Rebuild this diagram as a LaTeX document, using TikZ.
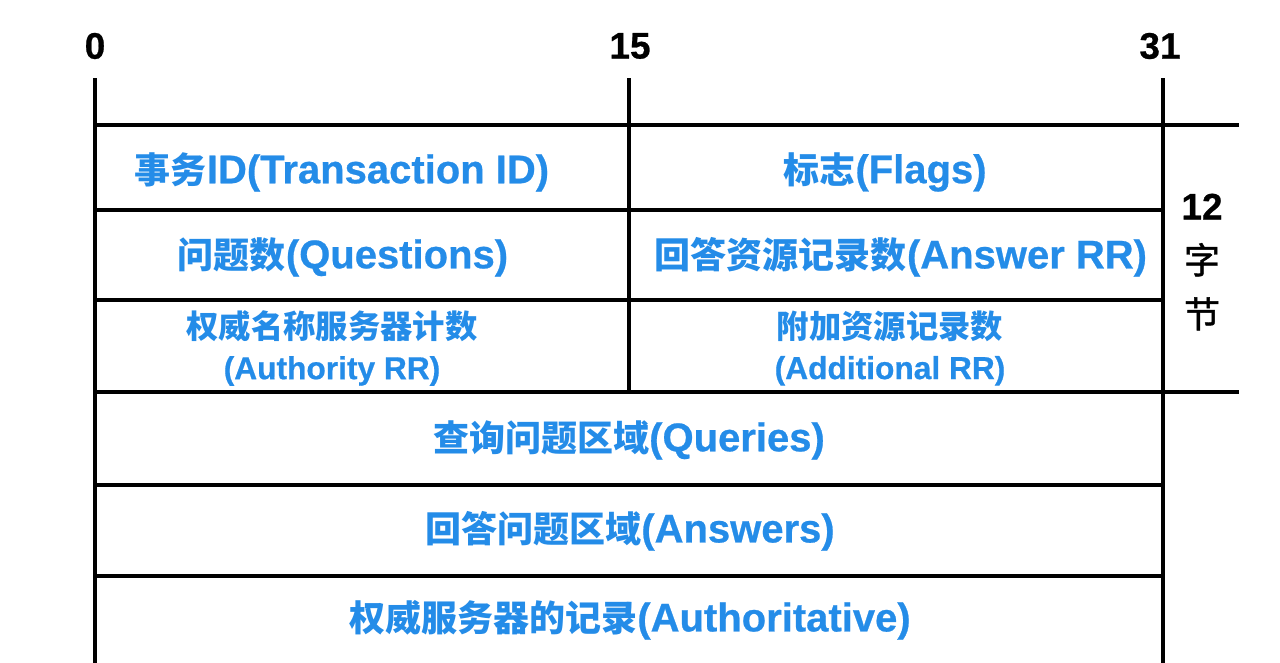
\documentclass[tikz,border=0pt]{standalone}
\usepackage{fontspec}
\setmainfont{Liberation Sans}[BoldFeatures={FakeBold=0.6}]
\newfontfamily\cjk{Noto Sans CJK SC}
\newfontfamily\cjkmed{Noto Sans CJK SC}[FakeBold=1.2]
\newcommand\zhbig[1]{{\cjk\fontsize{36}{44}\selectfont #1}}
\newcommand\zhsmall[1]{{\cjk\fontsize{32.3}{40}\selectfont #1}}
\newcommand\zhside[1]{{\cjkmed\mdseries\fontsize{36}{54}\selectfont #1}}
\definecolor{fieldblue}{RGB}{36,140,232}
\begin{document}
\begin{tikzpicture}[x=1pt,y=-1pt,
  grid/.style={line width=4pt,black,line cap=rect},
  field/.style={text=fieldblue,font=\fontsize{40}{46}\selectfont\bfseries,inner sep=0pt,anchor=center},
  smallfield/.style={text=fieldblue,font=\fontsize{31.7}{41}\selectfont\bfseries,inner sep=0pt,align=center,anchor=center},
  bitlabel/.style={text=black,font=\fontsize{37}{44}\selectfont\bfseries,inner sep=0pt},
  sidelabel/.style={text=black,font=\fontsize{37}{54}\selectfont\bfseries,inner sep=0pt,align=center}]
\useasboundingbox (0,0) rectangle (1280,662);
\fill[white] (0,0) rectangle (1280,662);
% grid lines
\draw[grid] (95,80) -- (95,664);
\draw[grid] (629,80) -- (629,392);
\draw[grid] (1163,80) -- (1163,664);
\draw[grid] (95,125) -- (1237,125);
\draw[grid] (95,210) -- (1163,210);
\draw[grid] (95,300) -- (1163,300);
\draw[grid] (95,392) -- (1237,392);
\draw[grid] (95,485) -- (1163,485);
\draw[grid] (95,576) -- (1163,576);
% bit labels
\node[bitlabel] (b0) at (95,46) {0};
\node[bitlabel] (b15) at (630,46) {15};
\node[bitlabel] (b31) at (1160,46) {31};
% side label
\node[sidelabel] (side) at (1202,262) {12\\\zhside{字}\\\zhside{节}};
% fields
\node[field] (tid) at (342,172) {\zhbig{事务}ID(Transaction ID)};
\node[field] (flags) at (885,172) {\zhbig{标志}(Flags)};
\node[field] (qd) at (343,257) {\zhbig{问题数}(Questions)};
\node[field] (an) at (901,257) {\zhbig{回答资源记录数}(Answer RR)};
\node[smallfield] (ns) at (332,348) {\zhsmall{权威名称服务器计数}\\(Authority RR)};
\node[smallfield] (ar) at (890,348) {\zhsmall{附加资源记录数}\\(Additional RR)};
\node[field] (queries) at (629,440) {\zhbig{查询问题区域}(Queries)};
\node[field] (answers) at (630,531) {\zhbig{回答问题区域}(Answers)};
\node[field] (auth) at (630,620) {\zhbig{权威服务器的记录}(Authoritative)};
\end{tikzpicture}
\end{document}
